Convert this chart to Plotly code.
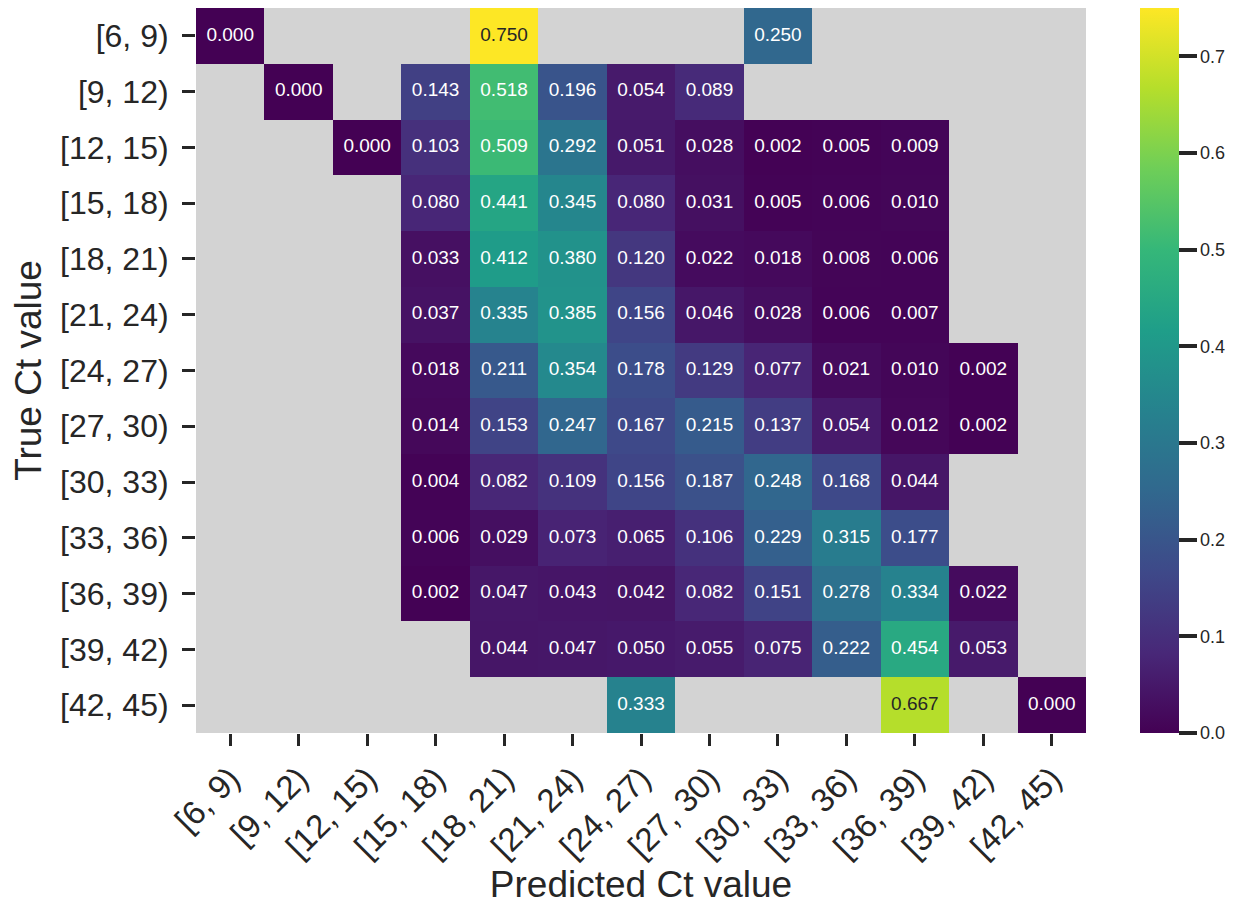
import plotly.graph_objects as go

bins = ["[6, 9)", "[9, 12)", "[12, 15)", "[15, 18)", "[18, 21)", "[21, 24)", "[24, 27)",
        "[27, 30)", "[30, 33)", "[33, 36)", "[36, 39)", "[39, 42)", "[42, 45)"]
N = None
# rows = true bin, columns = predicted bin (None = no data)
row_6_9   = [0.000, N, N, N, 0.750, N, N, N, 0.250, N, N, N, N]
row_9_12  = [N, 0.000, N, 0.143, 0.518, 0.196, 0.054, 0.089, N, N, N, N, N]
row_12_15 = [N, N, 0.000, 0.103, 0.509, 0.292, 0.051, 0.028, 0.002, 0.005, 0.009, N, N]
row_15_18 = [N, N, N, 0.080, 0.441, 0.345, 0.080, 0.031, 0.005, 0.006, 0.010, N, N]
row_18_21 = [N, N, N, 0.033, 0.412, 0.380, 0.120, 0.022, 0.018, 0.008, 0.006, N, N]
row_21_24 = [N, N, N, 0.037, 0.335, 0.385, 0.156, 0.046, 0.028, 0.006, 0.007, N, N]
row_24_27 = [N, N, N, 0.018, 0.211, 0.354, 0.178, 0.129, 0.077, 0.021, 0.010, 0.002, N]
row_27_30 = [N, N, N, 0.014, 0.153, 0.247, 0.167, 0.215, 0.137, 0.054, 0.012, 0.002, N]
row_30_33 = [N, N, N, 0.004, 0.082, 0.109, 0.156, 0.187, 0.248, 0.168, 0.044, N, N]
row_33_36 = [N, N, N, 0.006, 0.029, 0.073, 0.065, 0.106, 0.229, 0.315, 0.177, N, N]
row_36_39 = [N, N, N, 0.002, 0.047, 0.043, 0.042, 0.082, 0.151, 0.278, 0.334, 0.022, N]
row_39_42 = [N, N, N, N, 0.044, 0.047, 0.050, 0.055, 0.075, 0.222, 0.454, 0.053, N]
row_42_45 = [N, N, N, N, N, N, 0.333, N, N, N, 0.667, N, 0.000]

z = [row_6_9, row_9_12, row_12_15, row_15_18, row_18_21, row_21_24, row_24_27,
     row_27_30, row_30_33, row_33_36, row_36_39, row_39_42, row_42_45]

cbar_ticks = [0.0, 0.1, 0.2, 0.3, 0.4, 0.5, 0.6, 0.7]

FONT = "Liberation Sans, Arial, Helvetica, sans-serif"
DARK = "#262626"

fig = go.Figure()
fig.add_trace(go.Heatmap(
    z=z, x=bins, y=bins, colorscale="Viridis", zmin=0, zmax=0.75,
    hoverongaps=False,
    colorbar=dict(
        x=1.0607, xanchor="left", xref="paper", y=0.5, yanchor="middle", len=1.0,
        xpad=0, ypad=0,
        thickness=39, thicknessmode="pixels", outlinewidth=0,
        tickvals=cbar_ticks,
        ticktext=[f"{t:.1f}" for t in cbar_ticks],
        ticks="outside", ticklen=18, tickwidth=3.5, tickcolor=DARK,
        tickfont=dict(family=FONT, size=18, color=DARK),
    ),
))

# cell annotations
tx, ty, tt, tc = [], [], [], []
for i, row in enumerate(z):
    for j, v in enumerate(row):
        if v is None:
            continue
        tx.append(bins[j]); ty.append(bins[i]); tt.append(f"{v:.3f}")
        tc.append(DARK if v > 0.6 else "white")
fig.add_trace(go.Scatter(
    x=tx, y=ty, mode="text", text=tt,
    textfont=dict(family=FONT, size=19, color=tc),
    hoverinfo="skip", showlegend=False,
))

fig.update_layout(
    width=1236, height=897,
    margin=dict(l=188, r=158, t=0, b=172, autoexpand=False),
    paper_bgcolor="white", plot_bgcolor="#d3d3d3",
    font=dict(family=FONT, color=DARK),
    xaxis=dict(
        type="category", categoryorder="array", categoryarray=bins,
        showgrid=False, zeroline=False, showline=False,
        ticks="outside", ticklen=12, tickwidth=3, tickcolor=DARK,
        tickangle=-45, tickfont=dict(size=33, color=DARK),
        title=dict(text="Predicted Ct value", font=dict(size=37, color=DARK), standoff=10),
        range=[-0.5, 12.5], automargin=False,
    ),
    yaxis=dict(
        type="category", categoryorder="array", categoryarray=bins,
        showgrid=False, zeroline=False, showline=False,
        ticks="outside", ticklen=13, tickwidth=3, tickcolor=DARK,
        tickfont=dict(size=32, color=DARK), ticklabelstandoff=7,
        title=dict(text="True Ct value", font=dict(size=37, color=DARK), standoff=8),
        range=[12.5, -0.5], automargin=False,
    ),
)

fig.write_html("out.html")
